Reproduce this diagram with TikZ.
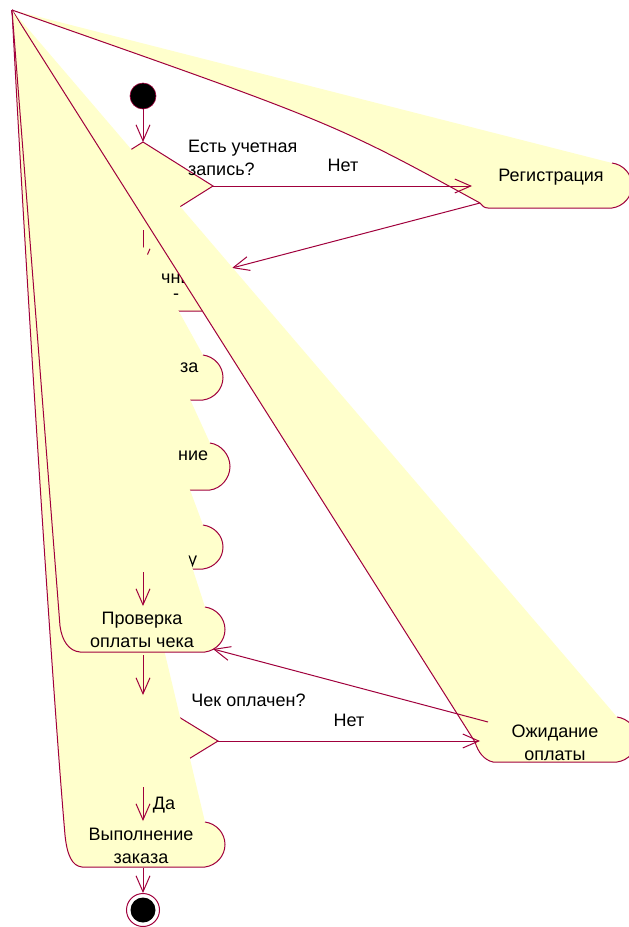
\documentclass[tikz,border=0pt]{standalone}
\usepackage{fontspec}
\setmainfont{Liberation Sans}
\usetikzlibrary{arrows.meta}
\definecolor{actfill}{RGB}{255,255,204}
\definecolor{actline}{RGB}{160,0,60}
\begin{document}
\begin{tikzpicture}[x=1pt,y=-1pt,
  lbl/.style={font=\fontsize{18pt}{23pt}\selectfont, inner sep=0pt, text=black},
  wline/.style={draw=actline, line width=1pt},
  arr/.style={draw=actline, line width=1pt, -{Straight Barb[length=16pt,width=14pt]}}]
\useasboundingbox (0,0) rectangle (629,927);
\clip (0,0) rectangle (629,927);
\coordinate (P) at (12,10);

% ---- Registration (glitched wedge)
\fill[actfill] (P) -- (612,163) .. controls (623.3,164.5) and (632,174.1) .. (632,185.5) .. controls (632,196.9) and (623.3,206.5) .. (612,208) -- (488,208) .. controls (484,208) and (482,205.5) .. (480,203) .. controls (334,123) .. (P) -- cycle;
\draw[wline] (612,163) .. controls (623.3,164.5) and (632,174.1) .. (632,185.5) .. controls (632,196.9) and (623.3,206.5) .. (612,208) -- (488,208) .. controls (484,208) and (482,205.5) .. (480,203) .. controls (334,123) .. (P);
\node[lbl, anchor=base] (reg) at (551,181) {Регистрация};

% ---- start and decision 1
\node[circle, fill=black, draw=actline, line width=0.6pt, minimum size=26pt, inner sep=0pt] (start) at (143,96) {};
\coordinate (d1t) at (143,142);
\coordinate (d1r) at (213,186);
\coordinate (d1b) at (143,230);
\coordinate (d1l) at (73,186);
\draw[arr] (start.south) -- (d1t);
\draw[wline, fill=actfill] (d1t) -- (d1r) -- (d1b) -- (d1l) -- cycle;
\node[lbl, anchor=north west, align=left] (q1) at (188,139.6) {Есть учетная\\запись?};
\coordinate (regin) at (472,186);
\draw[arr] (d1r) -- (regin);
\node[lbl, anchor=base] (no1) at (343,171.5) {Нет};

% ---- box b
\fill[actfill] (P) -- (203,266) .. controls (214.3,267.5) and (223,277.1) .. (223,288.5) .. controls (223,299.9) and (214.3,309.5) .. (203,311) -- (80,311) .. controls (69,310) and (62,301) .. (61,291.5) -- (P) -- cycle;
\draw[wline] (203,266) .. controls (214.3,267.5) and (223,277.1) .. (223,288.5) .. controls (223,299.9) and (214.3,309.5) .. (203,311) -- (80,311) .. controls (69,310) and (62,301) .. (61,291.5) -- (P);
\node[lbl, anchor=base west] (btxt) at (161,283) {чны};
\node[lbl] (bdash) at (176,297) {-};
\coordinate (regout) at (480,203);
\coordinate (bin) at (232,268);
\draw[arr] (regout) -- (bin);
\coordinate (btop) at (143,266);
\draw[arr] (d1b) -- (btop);

% ---- waiting for payment (glitched wedge)
\fill[actfill] (P) -- (617,717) .. controls (628.3,718.5) and (637,728.1) .. (637,739.5) .. controls (637,750.9) and (628.3,760.5) .. (617,762) -- (493,762) .. controls (484,760) and (478,752) .. (475,742) -- (P) -- cycle;
\draw[wline] (617,717) .. controls (628.3,718.5) and (637,728.1) .. (637,739.5) .. controls (637,750.9) and (628.3,760.5) .. (617,762) -- (493,762) .. controls (484,760) and (478,752) .. (475,742) -- (P);
\node[lbl, align=center] (oz) at (555,742.5) {Ожидание\\оплаты};

% ---- box c
\fill[actfill] (P) -- (203,355) .. controls (214.3,356.5) and (223,366.1) .. (223,377.5) .. controls (223,388.9) and (214.3,398.5) .. (203,400) -- (80,400) .. controls (69,399) and (62,390) .. (61,380.5) -- (P) -- cycle;
\draw[wline] (203,355) .. controls (214.3,356.5) and (223,366.1) .. (223,377.5) .. controls (223,388.9) and (214.3,398.5) .. (203,400) -- (80,400) .. controls (69,399) and (62,390) .. (61,380.5) -- (P);
\node[lbl, anchor=base west] (ctxt) at (180,372.7) {за};

% ---- box d
\fill[actfill] (P) -- (210,443) .. controls (221.3,444.5) and (230,455.1) .. (230,466.5) .. controls (230,477.9) and (221.3,488.5) .. (210,490) -- (80,490) .. controls (69,489) and (62,480) .. (61,469.5) -- (P) -- cycle;
\draw[wline] (210,443) .. controls (221.3,444.5) and (230,455.1) .. (230,466.5) .. controls (230,477.9) and (221.3,488.5) .. (210,490) -- (80,490) .. controls (69,489) and (62,480) .. (61,469.5) -- (P);
\node[lbl, anchor=base west] (dtxt) at (178,460.7) {ние};

% ---- box e
\fill[actfill] (P) -- (203,525) .. controls (214.3,526.5) and (223,535.6) .. (223,547) .. controls (223,558.4) and (214.3,567.5) .. (203,569) -- (80,569) .. controls (69,568) and (62,559) .. (61,550) -- (P) -- cycle;
\draw[wline] (203,525) .. controls (214.3,526.5) and (223,535.6) .. (223,547) .. controls (223,558.4) and (214.3,567.5) .. (203,569) -- (80,569) .. controls (69,568) and (62,559) .. (61,550) -- (P);
\node[lbl, anchor=base west] (etxt) at (188,565) {у};

% ---- decision 2
\coordinate (d2t) at (143,695);
\coordinate (d2r) at (218,741);
\coordinate (d2b) at (143,787);
\coordinate (d2l) at (68,741);
\draw[wline, fill=actfill] (d2t) -- (d2r) -- (d2b) -- (d2l) -- cycle;

% ---- box h: order execution
\fill[actfill] (P) -- (205,822) .. controls (216.3,823.5) and (225,833.1) .. (225,844.5) .. controls (225,855.9) and (216.3,865.5) .. (205,867) -- (82,867) .. controls (72,866) and (67,855) .. (65,835) .. controls (55,720) and (30,350) .. (P) -- cycle;
\draw[wline] (205,822) .. controls (216.3,823.5) and (225,833.1) .. (225,844.5) .. controls (225,855.9) and (216.3,865.5) .. (205,867) -- (82,867) .. controls (72,866) and (67,855) .. (65,835) .. controls (55,720) and (30,350) .. (P);
\node[lbl, align=center] (htxt) at (141,845.5) {Выполнение\\заказа};

% ---- box f: check payment
\fill[actfill] (P) -- (205,607) .. controls (216.3,608.5) and (225,618.1) .. (225,629.5) .. controls (225,640.9) and (216.3,650.5) .. (205,652) -- (80,652) .. controls (69,651) and (62,641) .. (60,626) -- (P) -- cycle;
\draw[wline] (205,607) .. controls (216.3,608.5) and (225,618.1) .. (225,629.5) .. controls (225,640.9) and (216.3,650.5) .. (205,652) -- (80,652) .. controls (69,651) and (62,641) .. (60,626) -- (P);
\node[lbl, align=center] (ftxt) at (142,630) {Проверка\\оплаты чека};

% ---- transitions
\coordinate (eout) at (143,572);
\coordinate (fin) at (143,606);
\draw[arr] (eout) -- (fin);
\coordinate (fout) at (143,655);
\draw[arr] (fout) -- (d2t);
\coordinate (hin) at (143,821);
\draw[arr] (d2b) -- (hin);
\node[lbl, anchor=base] (yes) at (164,809.5) {Да};
\coordinate (ozin) at (480,741);
\draw[arr] (d2r) -- (ozin);
\node[lbl, anchor=base] (no2) at (349,726.5) {Нет};
\node[lbl, anchor=base] (q2) at (248.5,706.5) {Чек оплачен?};
\coordinate (ozout) at (488,722);
\coordinate (fin2) at (213,649);
\draw[arr] (ozout) -- (fin2);

% ---- final node
\node[circle, draw=actline, line width=1pt, minimum size=33pt, inner sep=0pt] (final) at (143,910) {};
\node[circle, fill=black, minimum size=25pt, inner sep=0pt] (finaldot) at (final.center) {};
\coordinate (hout) at (143,868);
\draw[arr] (hout) -- (final.north);
\end{tikzpicture}
\end{document}
